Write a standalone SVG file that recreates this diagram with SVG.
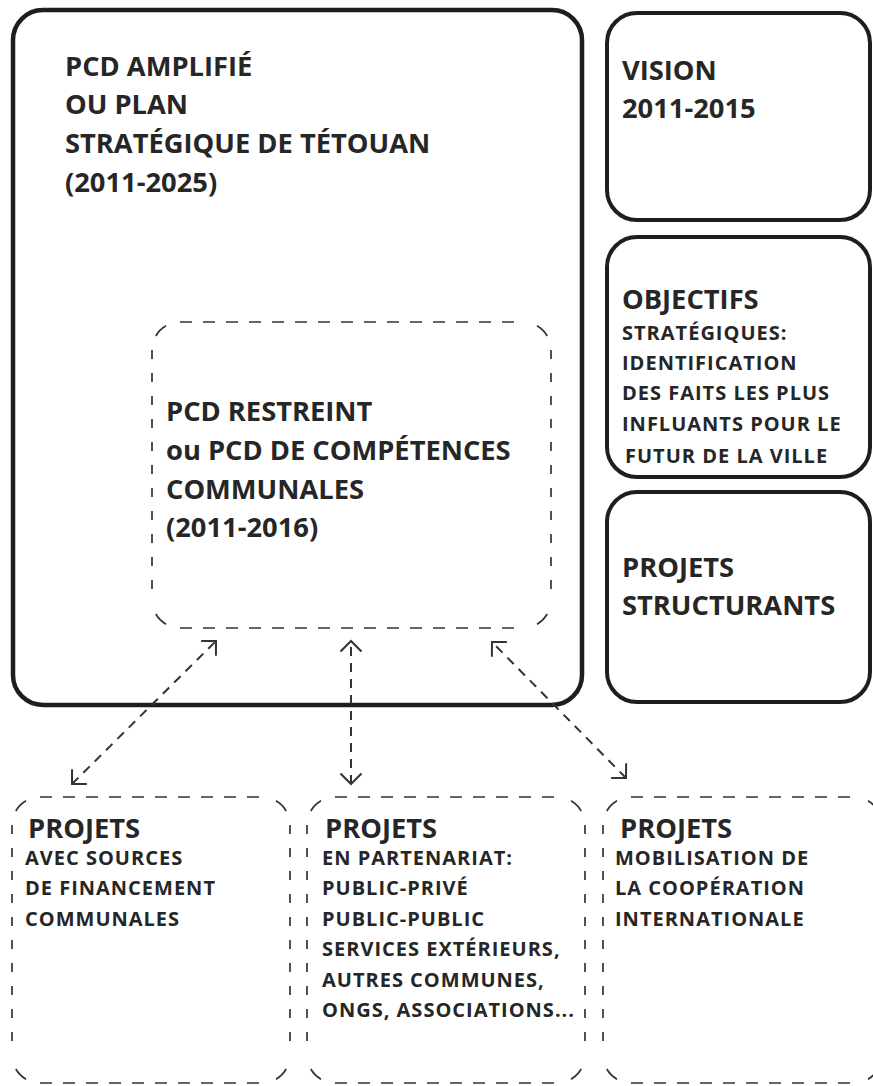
<svg xmlns="http://www.w3.org/2000/svg" width="873" height="1086" viewBox="0 0 873 1086">
<style>
  .solid { fill: #ffffff; stroke: #1e1e1e; }
  .main { stroke-width: 4.5; }
  .side { stroke-width: 4; }
  .dash { fill: none; stroke: #333333; stroke-width: 1.7; }
  .h { stroke-dasharray: 12 11; }
  .v { stroke-dasharray: 9 14; }
  .conn { fill: none; stroke: #333333; stroke-width: 2; stroke-dasharray: 9 7; marker-start: url(#head); marker-end: url(#head); }
  text { font-family: "Open Sans", "Liberation Sans", sans-serif; fill: #262626; font-weight: 700; }
  .big { font-size: 27.3px; }
  .small { font-size: 20px; letter-spacing: 1px; }
</style>
<defs>
  <marker id="head" markerUnits="userSpaceOnUse" markerWidth="30" markerHeight="30" refX="0" refY="0" viewBox="-15 -15 30 30" orient="auto-start-reverse" overflow="visible">
    <path d="M -10.5 -10.5 L 0 0 L -10.5 10.5" fill="none" stroke="#333333" stroke-width="2"/>
  </marker>
</defs>
<rect width="873" height="1086" fill="#ffffff"/>

<g id="pcd-amplifie">
  <rect class="solid main" x="13" y="10" width="569" height="695" rx="30" ry="30"/>
  <text class="big" x="65" y="76">PCD AMPLIFIÉ</text>
  <text class="big" x="65" y="114">OU PLAN</text>
  <text class="big" x="65" y="153">STRATÉGIQUE DE TÉTOUAN</text>
  <text class="big" x="65" y="192">(2011-2025)</text>
</g>

<g id="pcd-restreint">
  <path class="dash h" d="M180 322 H523 M180 628 H523"/>
  <path class="dash v" d="M152 350 V600 M551 350 V600"/>
  <path class="dash" d="M155.8 336 A28 28 0 0 1 166 325.8 M537 325.8 A28 28 0 0 1 547.2 336 M547.2 614 A28 28 0 0 1 537 624.2 M166 624.2 A28 28 0 0 1 155.8 614"/>
  <text class="big" x="166" y="421">PCD RESTREINT</text>
  <text class="big" x="166" y="460">ou PCD DE COMPÉTENCES</text>
  <text class="big" x="166" y="499">COMMUNALES</text>
  <text class="big" x="166" y="537">(2011-2016)</text>
</g>

<g id="vision">
  <rect class="solid side" x="607" y="13" width="263" height="207" rx="30" ry="30"/>
  <text class="big" x="622" y="80">VISION</text>
  <text class="big" x="622" y="118">2011-2015</text>
</g>

<g id="objectifs">
  <rect class="solid side" x="607" y="237" width="263" height="240" rx="30" ry="30"/>
  <text class="big" x="622" y="309">OBJECTIFS</text>
  <text class="small" x="622" y="340">STRATÉGIQUES:</text>
  <text class="small" x="622" y="370">IDENTIFICATION</text>
  <text class="small" x="622" y="400">DES FAITS LES PLUS</text>
  <text class="small" x="622" y="431">INFLUANTS POUR LE</text>
  <text class="small" x="625" y="463">FUTUR DE LA VILLE</text>
</g>

<g id="projets-structurants">
  <rect class="solid side" x="607" y="492" width="263" height="210" rx="30" ry="30"/>
  <text class="big" x="622" y="577">PROJETS</text>
  <text class="big" x="622" y="615">STRUCTURANTS</text>
</g>

<g id="projets-communaux">
  <path class="dash h" d="M40 797 H262 M40 1083 H262"/>
  <path class="dash v" d="M12 825 V1055 M290 825 V1055"/>
  <path class="dash" d="M15.8 811 A28 28 0 0 1 26 800.8 M276 800.8 A28 28 0 0 1 286.2 811 M286.2 1069 A28 28 0 0 1 276 1079.2 M26 1079.2 A28 28 0 0 1 15.8 1069"/>
  <text class="big" x="28" y="838">PROJETS</text>
  <text class="small" x="25" y="865">AVEC SOURCES</text>
  <text class="small" x="25" y="895">DE FINANCEMENT</text>
  <text class="small" x="25" y="926">COMMUNALES</text>
</g>

<g id="projets-partenariat">
  <path class="dash h" d="M335 797 H557 M335 1083 H557"/>
  <path class="dash v" d="M307 825 V1055 M585 825 V1055"/>
  <path class="dash" d="M310.8 811 A28 28 0 0 1 321 800.8 M571 800.8 A28 28 0 0 1 581.2 811 M581.2 1069 A28 28 0 0 1 571 1079.2 M321 1079.2 A28 28 0 0 1 310.8 1069"/>
  <text class="big" x="325" y="838">PROJETS</text>
  <text class="small" x="322" y="865">EN PARTENARIAT:</text>
  <text class="small" x="322" y="895">PUBLIC-PRIVÉ</text>
  <text class="small" x="322" y="926">PUBLIC-PUBLIC</text>
  <text class="small" x="322" y="956">SERVICES EXTÉRIEURS,</text>
  <text class="small" x="322" y="987">AUTRES COMMUNES,</text>
  <text class="small" x="322" y="1017">ONGS, ASSOCIATIONS...</text>
</g>

<g id="projets-cooperation">
  <path class="dash h" d="M631 797 H854 M631 1083 H854"/>
  <path class="dash v" d="M603 825 V1055 M882 825 V1055"/>
  <path class="dash" d="M606.8 811 A28 28 0 0 1 617 800.8 M868 800.8 A28 28 0 0 1 878.2 811 M878.2 1069 A28 28 0 0 1 868 1079.2 M617 1079.2 A28 28 0 0 1 606.8 1069"/>
  <text class="big" x="620" y="838">PROJETS</text>
  <text class="small" x="615" y="865">MOBILISATION DE</text>
  <text class="small" x="615" y="895">LA COOPÉRATION</text>
  <text class="small" x="615" y="926">INTERNATIONALE</text>
</g>

<g id="connectors">
  <path class="conn" d="M72 784 L216 641"/>
  <path class="conn" d="M351 784 L351 641"/>
  <path class="conn" d="M626 778 L492 642"/>
</g>
</svg>
